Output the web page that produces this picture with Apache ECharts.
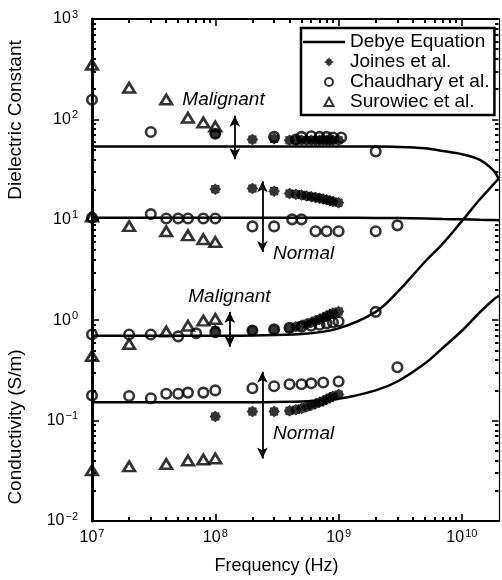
<!DOCTYPE html>
<html><head><meta charset="utf-8">
<script src="https://cdn.jsdelivr.net/npm/echarts@6/dist/echarts.min.js"></script>
<style>html,body{margin:0;padding:0;background:#fff}#c{width:502px;height:580px}</style>
</head><body><div id="c"></div>
<script>
const FONT = '"Liberation Sans", Arial, Helvetica, sans-serif';

// ---- Debye equation curves ----
const debyeFreq          = [1e7, 1e8, 5e8, 1e9, 2e9, 3e9, 5e9, 7e9, 1e10, 1.4e10, 1.8e10, 2e10];
const debyeMalignantPerm = [53.7, 53.7, 53.7, 53.7, 53.6, 53.2, 51.5, 48.5, 45, 39.5, 31, 25];
const debyeNormalPerm    = [10.5, 10.5, 10.5, 10.5, 10.45, 10.4, 10.3, 10.2, 10.1, 10.0, 9.95, 9.9];
const debyeMalignantCond = [0.70, 0.70, 0.73, 0.83, 1.21, 1.9, 3.8, 5.8, 9.7, 16, 22.5, 26];
const debyeNormalCond    = [0.152, 0.152, 0.155, 0.165, 0.20, 0.245, 0.37, 0.53, 0.785, 1.2, 1.6, 1.75];

// ---- Joines et al. ----
const joinesFreq          = [1e8, 2e8, 3e8, 4e8, 4.5e8, 5e8, 5.5e8, 6e8, 6.5e8, 7e8, 7.5e8, 8e8, 8.5e8, 9e8, 1e9];
const joinesMalignantPerm = [72, 63, 64, 62, 62, 62, 62, 62, 62, 62, 62, 62, 62, 62, 62];
const joinesNormalPerm    = [20.2, 20.5, 19.3, 18.3, 18.0, 17.7, 17.3, 17.0, 16.7, 16.4, 16.1, 15.8, 15.5, 15.2, 14.8];
const joinesMalignantCond = [0.79, 0.79, 0.80, 0.83, 0.86, 0.89, 0.92, 0.95, 0.99, 1.02, 1.06, 1.10, 1.14, 1.18, 1.22];
const joinesNormalCond    = [0.11, 0.123, 0.123, 0.125, 0.128, 0.132, 0.137, 0.142, 0.147, 0.152, 0.157, 0.163, 0.169, 0.175, 0.182];

// ---- Chaudhary et al. ----
const chaudMalPermFreq = [1e7, 3e7, 1e8, 3e8, 4.5e8, 5e8, 6e8, 7e8, 8e8, 9e8, 1.05e9, 2e9];
const chaudMalPermVal  = [157, 75, 72, 67, 63, 67, 68, 67, 67, 66, 66, 48];
const chaudNorPermFreq = [1e7, 3e7, 4e7, 5e7, 6e7, 8e7, 1e8, 2e8, 3e8, 4.2e8, 5e8, 6.5e8, 8e8, 1e9, 2e9, 3e9];
const chaudNorPermVal  = [10.5, 11.4, 10.3, 10.3, 10.3, 10.3, 10.3, 8.6, 8.6, 10.1, 10.1, 7.7, 7.7, 7.7, 7.7, 8.8];
const chaudMalCondFreq = [1e7, 2e7, 3e7, 5e7, 7e7, 1e8, 2e8, 3e8, 4e8, 5e8, 6e8, 7e8, 8e8, 9e8, 1e9, 2e9];
const chaudMalCondVal  = [0.72, 0.72, 0.72, 0.69, 0.74, 0.76, 0.79, 0.81, 0.84, 0.86, 0.88, 0.90, 0.93, 0.95, 0.97, 1.21];
const chaudNorCondFreq = [1e7, 2e7, 3e7, 4e7, 5e7, 6e7, 8e7, 1e8, 2e8, 3e8, 4e8, 5e8, 6e8, 7.5e8, 1e9, 3e9];
const chaudNorCondVal  = [0.178, 0.176, 0.167, 0.185, 0.185, 0.19, 0.19, 0.20, 0.21, 0.22, 0.23, 0.23, 0.235, 0.24, 0.245, 0.34];

// ---- Surowiec et al. ----
const surowFreq          = [1e7, 2e7, 4e7, 6e7, 8e7, 1e8];
const surowMalignantPerm = [350, 207, 158, 104, 93, 85];
const surowNormalPerm    = [10.8, 8.65, 7.7, 7.0, 6.4, 6.0];
const surowMalignantCond = [0.44, 0.58, 0.77, 0.88, 0.99, 1.03];
const surowNormalCond    = [0.032, 0.035, 0.037, 0.040, 0.041, 0.042];

// ---- annotations (data coordinates) ----
const arrowFreq = [1.44e8, 2.41e8, 1.31e8, 2.41e8];
const arrowTop  = [109, 24.2, 1.21, 0.307];
const arrowBot  = [40, 4.77, 0.545, 0.042];
const noteText  = ['Malignant', 'Normal', 'Malignant', 'Normal'];
const noteFreq  = [5.35e7, 2.91e8, 5.98e7, 2.91e8];
const noteVal   = [157, 4.56, 1.71, 0.0746];

// ---- axis ticks ----
const X_MIN = 1e7, X_MAX = 2e10, Y_MIN = 1e-2, Y_MAX = 1e3;
const xDecades = [1e7, 1e8, 1e9, 1e10];
const yDecades = [1e-2, 1e-1, 1e0, 1e1, 1e2, 1e3];
const mults = [2, 3, 4, 5, 6, 7, 8, 9];
const xTickVals = [], xTickMajor = [];
xDecades.forEach(d => { if (d > X_MIN) { xTickVals.push(d); xTickMajor.push(1); } mults.forEach(m => { if (d * m < X_MAX) { xTickVals.push(d * m); xTickMajor.push(0); } }); });
const yTickVals = [], yTickMajor = [];
yDecades.forEach(d => { if (d > Y_MIN && d < Y_MAX) { yTickVals.push(d); yTickMajor.push(1); } if (d < Y_MAX) mults.forEach(m => { yTickVals.push(d * m); yTickMajor.push(0); }); });

// tick lengths as fractions of a decade (x decade ~124 px, y decade ~101 px);
// both ends are kept slightly inside the plot so the marker lines are not filtered out
const X_TICK_DEC = [4 / 100.8, 7 / 100.8];
const Y_TICK_DEC = [4 / 123.6, 7 / 123.6];
const INSET_X = Math.pow(10, 0.6 / 100.8);
const INSET_Y = Math.pow(10, 0.6 / 123.6);
const tickSegs = [];
xTickVals.forEach((v, i) => {
  const f = Math.pow(10, X_TICK_DEC[xTickMajor[i]]);
  const ls = { color: '#000', width: xTickMajor[i] ? 1.6 : 2, type: 'solid' };
  tickSegs.push([{ coord: [v, Y_MIN * INSET_X], lineStyle: ls }, { coord: [v, Y_MIN * f] }]);
  tickSegs.push([{ coord: [v, Y_MAX / INSET_X], lineStyle: ls }, { coord: [v, Y_MAX / f] }]);
});
yTickVals.forEach((v, i) => {
  const f = Math.pow(10, Y_TICK_DEC[yTickMajor[i]]);
  const ls = { color: '#000', width: yTickMajor[i] ? 1.6 : 2, type: 'solid' };
  tickSegs.push([{ coord: [X_MIN * INSET_Y, v], lineStyle: ls }, { coord: [X_MIN * f, v] }]);
  tickSegs.push([{ coord: [X_MAX / INSET_Y, v], lineStyle: ls }, { coord: [X_MAX / f, v] }]);
});

const zip = (a, b) => a.map((v, i) => [v, b[i]]);

const STAR = 'path://M10 0 L7.4 3.1 L7.07 7.07 L3.1 7.4 L0 10 L-3.1 7.4 L-7.07 7.07 L-7.4 3.1 L-10 0 L-7.4 -3.1 L-7.07 -7.07 L-3.1 -7.4 L0 -10 L3.1 -7.4 L7.07 -7.07 L7.4 -3.1 Z';

// legend icons, drawn inside a 42x11 box
const ICON_LINE = 'path://M0 0 M42 11 M0 4.3 L42 4.3 L42 6.7 L0 6.7 Z';
const ICON_STAR = 'path://M0 0 M42 11 M31 5.5 L28.6 6.8 L28.5 8.3 L27 8.6 L26 10.5 L25 8.6 L23.5 8.3 L23.4 6.8 L21 5.5 L23.4 4.2 L23.5 2.7 L25 2.4 L26 0.5 L27 2.4 L28.5 2.7 L28.6 4.2 Z';
const ICON_CIRC = 'path://M0 0 M42 11 M30 5.5 A4 4 0 1 1 22 5.5 A4 4 0 1 1 30 5.5 Z';
const ICON_TRI  = 'path://M0 0 M42 11 M26 1.3 L30.6 9.6 L21.4 9.6 Z';

function supFmt(v) {
  const l = Math.log10(v);
  const e = Math.round(l);
  if (Math.abs(l - e) > 1e-6) return '';
  return '{b|10}{s|' + (e < 0 ? '\u2212' + (-e) : e) + '}';
}
const rich = {
  b: { fontSize: 16, fontFamily: FONT, color: '#000' },
  s: { fontSize: 11, fontFamily: FONT, color: '#000', padding: [0, 0, 9, 1] }
};

function lineSeries(data, extra) {
  return Object.assign({
    name: 'Debye Equation', type: 'line', data: data, symbol: 'none', smooth: 0.35,
    lineStyle: { color: '#000', width: 2.5 }, itemStyle: { color: '#000' }, z: 2
  }, extra || {});
}
function joines(data) {
  return { name: 'Joines et al.', type: 'scatter', data: data, symbol: STAR, symbolSize: 11.5,
    itemStyle: { color: '#000' }, z: 4 };
}
function chaud(data) {
  return { name: 'Chaudhary et al.', type: 'scatter', data: data, symbol: 'circle', symbolSize: 9.5,
    itemStyle: { color: 'rgba(0,0,0,0)', borderColor: '#000', borderWidth: 2.6 }, z: 5 };
}
function surow(data) {
  return { name: 'Surowiec et al.', type: 'scatter', data: data, symbol: 'triangle', symbolSize: [11.5, 9.5],
    itemStyle: { color: 'rgba(0,0,0,0)', borderColor: '#000', borderWidth: 2.7 }, z: 5 };
}

const noSplit = { splitLine: { show: false }, minorTick: { show: false }, minorSplitLine: { show: false } };
function frameAxis(pos, w) {
  return Object.assign({
    type: 'value', min: 0, max: 1, position: pos,
    axisLine: { show: true, onZero: false, lineStyle: { color: '#000', width: w } },
    axisTick: { show: false }, axisLabel: { show: false }
  }, noSplit);
}

const option = {
  animation: false,
  backgroundColor: '#fff',
  textStyle: { fontFamily: FONT },
  grid: { left: 92, top: 19, right: 2, bottom: 57 },
  legend: {
    orient: 'vertical', left: 301, top: 28, selectedMode: false,
    data: [
      { name: 'Debye Equation', icon: ICON_LINE },
      { name: 'Joines et al.', icon: ICON_STAR },
      { name: 'Chaudhary et al.', icon: ICON_CIRC },
      { name: 'Surowiec et al.', icon: ICON_TRI }
    ],
    itemWidth: 42, itemHeight: 11, itemGap: 0,
    padding: [4, 5, 3, 1],
    borderColor: '#000', borderWidth: 2.5, backgroundColor: '#fff',
    textStyle: { fontSize: 19, color: '#000', fontFamily: FONT, lineHeight: 20 }
  },
  xAxis: [
    Object.assign({ type: 'log', logBase: 10, min: X_MIN, max: X_MAX, position: 'bottom',
      axisLine: { onZero: false, lineStyle: { color: '#000', width: 2 } },
      axisTick: { show: false },
      axisLabel: { formatter: supFmt, rich: rich, margin: 7 },
      name: 'Frequency (Hz)', nameLocation: 'middle', nameGap: 36,
      nameTextStyle: { fontSize: 18, color: '#000', fontFamily: FONT, padding: [0, 38, 0, 0] }
    }, noSplit),
    frameAxis('top', 2)
  ],
  yAxis: [
    Object.assign({ type: 'log', logBase: 10, min: Y_MIN, max: Y_MAX, position: 'left',
      axisLine: { onZero: false, lineStyle: { color: '#000', width: 3 } },
      axisTick: { show: false },
      axisLabel: { formatter: supFmt, rich: rich, margin: 14 }
    }, noSplit),
    frameAxis('right', 1.2)
  ],
  graphic: [
    { type: 'text', x: 16, y: 120, rotation: Math.PI / 2,
      style: { text: 'Dielectric Constant', fontSize: 19, fontFamily: FONT, fill: '#000', align: 'center', verticalAlign: 'middle' } },
    { type: 'text', x: 16, y: 427, rotation: Math.PI / 2,
      style: { text: 'Conductivity (S/m)', fontSize: 19, fontFamily: FONT, fill: '#000', align: 'center', verticalAlign: 'middle' } }
  ],
  series: [
    lineSeries(zip(debyeFreq, debyeMalignantPerm), {
      markLine: {
        silent: true, symbol: ['arrow', 'arrow'], symbolSize: [8, 11],
        lineStyle: { color: '#000', width: 1.8, type: 'solid' }, label: { show: false },
        data: arrowFreq.map((f, i) => [{ coord: [f, arrowTop[i]] }, { coord: [f, arrowBot[i]] }])
      },
      markPoint: {
        silent: true, symbol: 'circle', symbolSize: 1, itemStyle: { color: 'rgba(0,0,0,0)' },
        label: { show: true, position: 'right', distance: 0, formatter: p => p.name,
          fontStyle: 'italic', fontSize: 19, color: '#000', fontFamily: FONT },
        data: noteText.map((t, i) => ({ name: t, coord: [noteFreq[i], noteVal[i]] }))
      }
    }),
    lineSeries(zip(debyeFreq, debyeNormalPerm), {
      markLine: {
        silent: true, symbol: ['none', 'none'], label: { show: false },
        lineStyle: { color: '#000', width: 1.6, type: 'solid' },
        emphasis: { disabled: true },
        data: tickSegs
      }
    }),
    lineSeries(zip(debyeFreq, debyeMalignantCond)),
    lineSeries(zip(debyeFreq, debyeNormalCond)),
    joines(zip(joinesFreq, joinesMalignantPerm)),
    joines(zip(joinesFreq, joinesNormalPerm)),
    joines(zip(joinesFreq, joinesMalignantCond)),
    joines(zip(joinesFreq, joinesNormalCond)),
    chaud(zip(chaudMalPermFreq, chaudMalPermVal)),
    chaud(zip(chaudNorPermFreq, chaudNorPermVal)),
    chaud(zip(chaudMalCondFreq, chaudMalCondVal)),
    chaud(zip(chaudNorCondFreq, chaudNorCondVal)),
    surow(zip(surowFreq, surowMalignantPerm)),
    surow(zip(surowFreq, surowNormalPerm)),
    surow(zip(surowFreq, surowMalignantCond)),
    surow(zip(surowFreq, surowNormalCond))
  ]
};

const chart = echarts.init(document.getElementById('c'), null, { renderer: 'canvas' });
chart.setOption(option);
</script>
</body></html>
